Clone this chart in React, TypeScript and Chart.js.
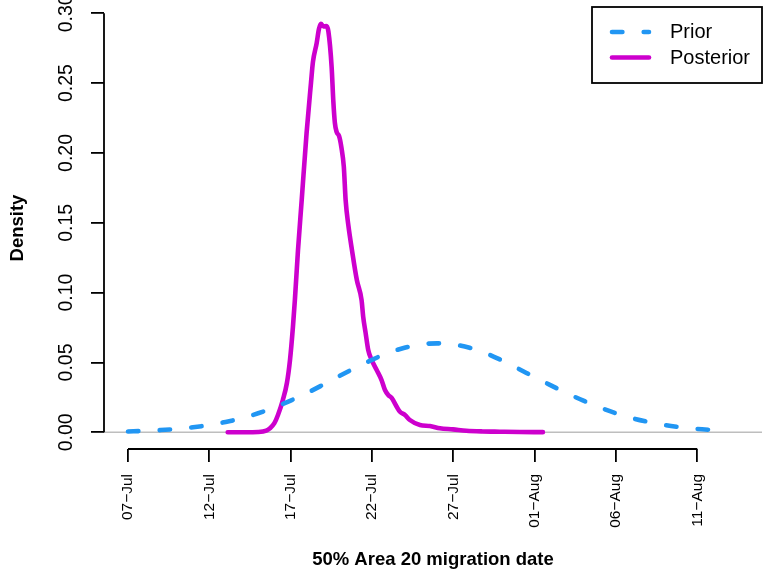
import React, { useEffect, useRef } from "react";
import { Chart, registerables } from "chart.js";

Chart.register(...registerables);

const FONT = '"Liberation Sans", Arial, Helvetica, sans-serif';

// Dates are counted in days from 07-Jul.
const xTickDays = [0, 5, 10, 15, 20, 25, 30, 35];
const xTickLabels = ["07−Jul", "12−Jul", "17−Jul", "22−Jul", "27−Jul", "01−Aug", "06−Aug", "11−Aug"];
const yTickValues = [0, 0.05, 0.1, 0.15, 0.2, 0.25, 0.3];

const priorDays = [
  0, 1, 2, 3, 4, 5, 6, 7, 8, 9, 10, 11, 12, 13, 14, 15, 16, 17, 18,
  19, 20, 21, 22, 23, 24, 25, 26, 27, 28, 29, 30, 31, 32, 33, 34, 35, 36,
];
const priorDensity = [
  0.0006, 0.001, 0.0016, 0.0024, 0.0036, 0.0052, 0.0074, 0.0101, 0.0136, 0.0178,
  0.0227, 0.0281, 0.0341, 0.0403, 0.0463, 0.0519, 0.0568, 0.0605, 0.0629, 0.0637,
  0.0629, 0.0605, 0.0566, 0.0514, 0.0455, 0.0395, 0.0336, 0.0279, 0.0226, 0.0178,
  0.0136, 0.0101, 0.0074, 0.0052, 0.0036, 0.0024, 0.0016,
];

const posteriorDays = [
  6.13, 7.2, 8.0, 8.5, 8.73, 9.0, 9.22, 9.52, 9.77, 9.96, 10.14, 10.26, 10.45,
  10.68, 10.98, 11.25, 11.37, 11.6, 11.74, 11.86, 12.02, 12.2, 12.32, 12.52,
  12.62, 12.72, 12.83, 12.98, 13.12, 13.27, 13.38, 13.55, 13.77, 14.07, 14.36,
  14.46, 14.61, 14.77, 14.98, 15.29, 15.59, 15.8, 16.0, 16.21, 16.52, 16.72,
  17.03, 17.33, 17.95, 18.56, 19.18, 19.98, 20.8, 21.8, 22.86, 24.09, 25.51,
];
const posteriorDensity = [
  0.0, 0.0, 0.0002, 0.0012, 0.0029, 0.0065, 0.0124, 0.0231, 0.0353, 0.0518,
  0.0754, 0.0947, 0.13, 0.1663, 0.2143, 0.2501, 0.2651, 0.2787, 0.2888, 0.2925,
  0.2905, 0.2908, 0.287, 0.2615, 0.2379, 0.2215, 0.215, 0.212, 0.204, 0.19,
  0.1663, 0.148, 0.1305, 0.109, 0.0947, 0.0828, 0.0711, 0.0589, 0.0518, 0.0446,
  0.0374, 0.0303, 0.0267, 0.0246, 0.0183, 0.0147, 0.0124, 0.0088, 0.0052, 0.0045,
  0.0029, 0.0021, 0.0011, 0.0006, 0.0004, 0.0002, 0.0001,
];

const seriesNames = ["Prior", "Posterior"];
const PRIOR_COLOR = "#2196F3";
const POSTERIOR_COLOR = "#CD00CD";

// Axis lines running from the first to the last tick, plus a grey line at zero.
const axisLinesPlugin = {
  id: "axisLines",
  beforeDatasetsDraw(chart: any) {
    const { ctx, chartArea, scales } = chart;
    const xs = scales.x;
    const ys = scales.y;
    ctx.save();
    const y0 = ys.getPixelForValue(0);
    ctx.strokeStyle = "#BEBEBE";
    ctx.lineWidth = 1.5;
    ctx.beginPath();
    ctx.moveTo(chartArea.left, y0);
    ctx.lineTo(chartArea.right, y0);
    ctx.stroke();

    ctx.strokeStyle = "#000";
    ctx.lineWidth = 1.8;
    ctx.lineCap = "butt";
    ctx.beginPath();
    ctx.moveTo(xs.getPixelForValue(xTickDays[0]), chartArea.bottom);
    ctx.lineTo(xs.getPixelForValue(xTickDays[xTickDays.length - 1]), chartArea.bottom);
    ctx.moveTo(chartArea.left, ys.getPixelForValue(yTickValues[0]));
    ctx.lineTo(chartArea.left, ys.getPixelForValue(yTickValues[yTickValues.length - 1]));
    ctx.stroke();
    ctx.restore();
  },
};

// Boxed legend in the top-right corner of the plot region.
const boxLegendPlugin = {
  id: "boxLegend",
  afterDraw(chart: any) {
    const { ctx, chartArea } = chart;
    const right = chartArea.right;
    const top = chartArea.top;
    const width = 170;
    const height = 76;
    ctx.save();
    ctx.fillStyle = "#fff";
    ctx.fillRect(right - width, top, width, height);
    ctx.strokeStyle = "#000";
    ctx.lineWidth = 1.8;
    ctx.strokeRect(right - width, top, width, height);

    const rows = [top + 25, top + 50.5];
    chart.data.datasets.forEach((ds: any, i: number) => {
      const y = rows[i];
      ctx.strokeStyle = ds.borderColor;
      ctx.lineWidth = ds.borderWidth;
      ctx.lineCap = "round";
      ctx.setLineDash(ds.borderDash || []);
      ctx.beginPath();
      ctx.moveTo(right - 150, y);
      ctx.lineTo(right - 113, y);
      ctx.stroke();
      ctx.setLineDash([]);
      ctx.fillStyle = "#000";
      ctx.font = `20px ${FONT}`;
      ctx.textAlign = "left";
      ctx.textBaseline = "middle";
      ctx.fillText(ds.label, right - 92, y + 0.5);
    });
    ctx.restore();
  },
};

export default function App() {
  const canvasRef = useRef<HTMLCanvasElement | null>(null);

  useEffect(() => {
    if (!canvasRef.current) return;
    Chart.defaults.font.family = FONT;
    const tickGrid = {
      display: true,
      drawOnChartArea: false,
      drawTicks: true,
      tickLength: 13,
      color: "#000",
      lineWidth: 1.8,
    };
    const chart = new Chart(canvasRef.current, {
      type: "line",
      data: {
        datasets: [
          {
            label: seriesNames[0],
            data: priorDays.map((d, i) => ({ x: d, y: priorDensity[i] })),
            borderColor: PRIOR_COLOR,
            borderWidth: 4.6,
            borderDash: [10.4, 21.3],
            borderCapStyle: "round",
            borderJoinStyle: "round",
            cubicInterpolationMode: "monotone",
            pointRadius: 0,
            fill: false,
          },
          {
            label: seriesNames[1],
            data: posteriorDays.map((d, i) => ({ x: d, y: posteriorDensity[i] })),
            borderColor: POSTERIOR_COLOR,
            borderWidth: 4.6,
            borderCapStyle: "round",
            borderJoinStyle: "round",
            cubicInterpolationMode: "monotone",
            pointRadius: 0,
            fill: false,
          },
        ],
      },
      options: {
        animation: false,
        responsive: true,
        maintainAspectRatio: false,
        devicePixelRatio: 1,
        layout: { padding: { left: 0, top: 7, right: 5, bottom: 0 } },
        plugins: { legend: { display: false }, tooltip: { enabled: false } },
        scales: {
          x: {
            type: "linear",
            min: -1.4755,
            max: 38.98,
            afterBuildTicks: (s: any) => {
              s.ticks = xTickDays.map((v) => ({ value: v }));
            },
            afterFit: (s: any) => {
              s.height = 133;
              s.paddingLeft = 0;
              s.paddingRight = 0;
            },
            border: { display: false },
            grid: tickGrid,
            ticks: {
              autoSkip: false,
              minRotation: 90,
              maxRotation: 90,
              padding: 12,
              color: "#000",
              font: { size: 15.5, family: FONT },
              callback: (_v: any, i: number) => xTickLabels[i],
            },
            title: {
              display: true,
              text: "50% Area 20 migration date",
              color: "#000",
              font: { size: 18.5, weight: "bold", family: FONT },
              padding: { top: 0, bottom: 11.3 },
            },
          },
          y: {
            type: "linear",
            min: -0.01196,
            max: 0.3045,
            afterBuildTicks: (s: any) => {
              s.ticks = yTickValues.map((v) => ({ value: v }));
            },
            afterFit: (s: any) => {
              s.width = 104;
              s.paddingTop = 0;
              s.paddingBottom = 0;
            },
            border: { display: false },
            grid: tickGrid,
            ticks: {
              autoSkip: false,
              minRotation: 90,
              maxRotation: 90,
              crossAlign: "center",
              padding: 5.3,
              color: "#000",
              font: { size: 19.5, family: FONT },
              callback: (v: any) => Number(v).toFixed(2),
            },
            title: {
              display: true,
              text: "Density",
              color: "#000",
              font: { size: 18.5, weight: "bold", family: FONT },
              padding: { top: 6.9, bottom: 0 },
            },
          },
        },
      } as any,
      plugins: [axisLinesPlugin, boxLegendPlugin],
    });
    return () => chart.destroy();
  }, []);

  return (
    <div style={{ position: "fixed", left: 0, top: 0, width: 767, height: 582, background: "#fff" }}>
      <canvas ref={canvasRef} />
    </div>
  );
}
